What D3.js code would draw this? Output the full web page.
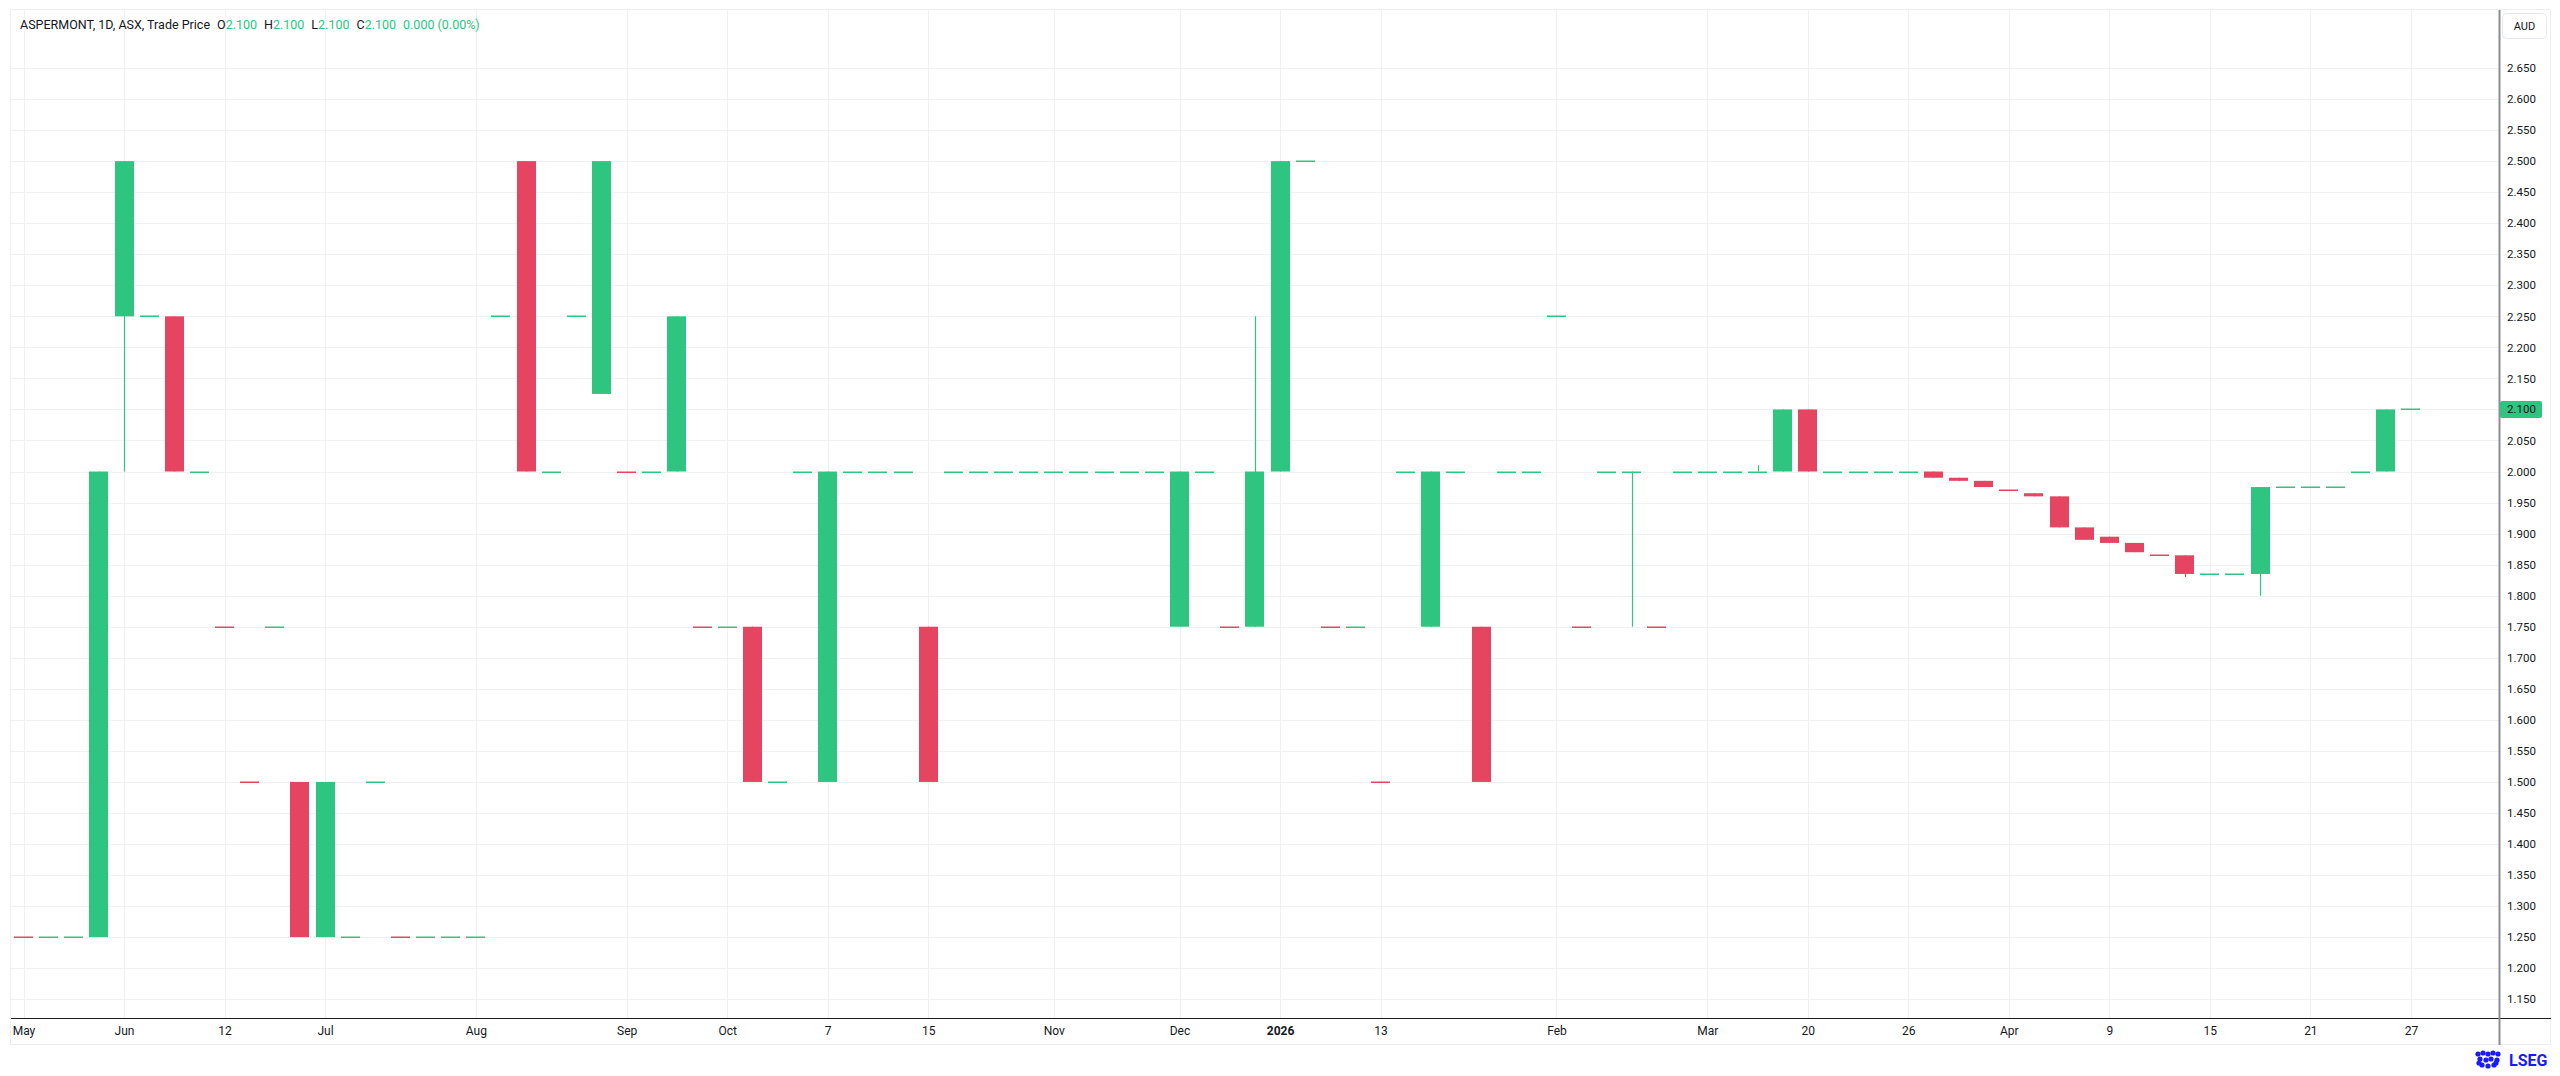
<!DOCTYPE html>
<html><head><meta charset="utf-8">
<script src="https://cdn.jsdelivr.net/npm/d3@7"></script>
<style>
html,body{margin:0;padding:0;background:#ffffff;}
svg{display:block;font-family:Roboto,"Liberation Sans",sans-serif;}
</style>
</head><body>
<svg id="chart" width="2560" height="1076"></svg>
<script>
// ---- data (one entry per trading bar) ----
const opens = [1.25,1.25,1.25,1.25,2.25,2.25,2.25,2.0,1.75,1.5,
  1.75,1.5,1.25,1.25,1.5,1.25,1.25,1.25,1.25,2.25,
  2.5,2.0,2.25,2.125,2.0,2.0,2.0,1.75,1.75,1.75,
  1.5,2.0,1.5,2.0,2.0,2.0,1.75,2.0,2.0,2.0,
  2.0,2.0,2.0,2.0,2.0,2.0,1.75,2.0,1.75,1.75,
  2.0,2.5,1.75,1.75,1.5,2.0,1.75,2.0,1.75,2.0,
  2.0,2.25,1.75,2.0,2.0,1.75,2.0,2.0,2.0,2.0,
  2.0,2.1,2.0,2.0,2.0,2.0,2.0,1.99,1.985,1.97,
  1.965,1.96,1.91,1.895,1.885,1.865,1.865,1.835,1.835,1.835,
  1.975,1.975,1.975,2.0,2.0,2.1];
const highs = [1.25,1.25,1.25,2.0,2.5,2.25,2.25,2.0,1.75,1.5,
  1.75,1.5,1.5,1.25,1.5,1.25,1.25,1.25,1.25,2.25,
  2.5,2.0,2.25,2.5,2.0,2.0,2.25,1.75,1.75,1.75,
  1.5,2.0,2.0,2.0,2.0,2.0,1.75,2.0,2.0,2.0,
  2.0,2.0,2.0,2.0,2.0,2.0,2.0,2.0,1.75,2.25,
  2.5,2.5,1.75,1.75,1.5,2.0,2.0,2.0,1.75,2.0,
  2.0,2.25,1.75,2.0,2.0,1.75,2.0,2.0,2.0,2.01,
  2.1,2.1,2.0,2.0,2.0,2.0,2.0,1.99,1.985,1.97,
  1.965,1.96,1.91,1.895,1.885,1.865,1.865,1.835,1.835,1.975,
  1.975,1.975,1.975,2.0,2.1,2.1];
const lows = [1.25,1.25,1.25,1.25,2.0,2.25,2.0,2.0,1.75,1.5,
  1.75,1.25,1.25,1.25,1.5,1.25,1.25,1.25,1.25,2.25,
  2.0,2.0,2.25,2.125,2.0,2.0,2.0,1.75,1.75,1.5,
  1.5,2.0,1.5,2.0,2.0,2.0,1.5,2.0,2.0,2.0,
  2.0,2.0,2.0,2.0,2.0,2.0,1.75,2.0,1.75,1.75,
  2.0,2.5,1.75,1.75,1.5,2.0,1.75,2.0,1.5,2.0,
  2.0,2.25,1.75,2.0,1.75,1.75,2.0,2.0,2.0,2.0,
  2.0,2.0,2.0,2.0,2.0,2.0,1.99,1.985,1.975,1.97,
  1.96,1.91,1.89,1.885,1.87,1.865,1.83,1.835,1.835,1.80,
  1.975,1.975,1.975,2.0,2.0,2.1];
const closes = [1.25,1.25,1.25,2.0,2.5,2.25,2.0,2.0,1.75,1.5,
  1.75,1.25,1.5,1.25,1.5,1.25,1.25,1.25,1.25,2.25,
  2.0,2.0,2.25,2.5,2.0,2.0,2.25,1.75,1.75,1.5,
  1.5,2.0,2.0,2.0,2.0,2.0,1.5,2.0,2.0,2.0,
  2.0,2.0,2.0,2.0,2.0,2.0,2.0,2.0,1.75,2.0,
  2.5,2.5,1.75,1.75,1.5,2.0,2.0,2.0,1.5,2.0,
  2.0,2.25,1.75,2.0,2.0,1.75,2.0,2.0,2.0,2.0,
  2.1,2.0,2.0,2.0,2.0,2.0,1.99,1.985,1.975,1.97,
  1.96,1.91,1.89,1.885,1.87,1.865,1.835,1.835,1.835,1.975,
  1.975,1.975,1.975,2.0,2.1,2.1];
// unchanged-price bars that closed below the prior trade (drawn as down bars)
const dojiDownBars = [0,8,9,15,24,27,48,52,54,62,65,79,85];

// time axis labels (bar index -> label)
const timeTickIndex = [0,4,8,12,18,24,28,32,36,41,46,50,54,61,67,71,75,79,83,87,91,95];
const timeTickLabels = ["May","Jun","12","Jul","Aug","Sep","Oct","7","15","Nov","Dec","2026","13","Feb","Mar","20","26","Apr","9","15","21","27"];
const boldTimeLabels = ["2026"];

// price axis labels
const priceTickLabels = ["2.650","2.600","2.550","2.500","2.450","2.400","2.350","2.300","2.250","2.200",
  "2.150","2.100","2.050","2.000","1.950","1.900","1.850","1.800","1.750","1.700","1.650","1.600",
  "1.550","1.500","1.450","1.400","1.350","1.300","1.250","1.200","1.150"];

const lastPrice = 2.100;
const headerTitle = "ASPERMONT, 1D, ASX, Trade Price";
const headerOHLC = [["O","2.100"],["H","2.100"],["L","2.100"],["C","2.100"]];
const headerChange = "0.000 (0.00%)";
const currency = "AUD";

// ---- layout ----
const UP = "#2ec580", DOWN = "#e54560", GRID = "#f0f1f3", TEXT = "#131722";
const paneL = 11, paneR = 2499, paneT = 10, paneB = 1018, outerR = 2551, outerB = 1045;

const bars = opens.map((o,i)=>({i,o,h:highs[i],l:lows[i],c:closes[i]}));
bars.forEach(b=>{
  b.up = b.c > b.o ? true : (b.c < b.o ? false : !dojiDownBars.includes(b.i));
});

const x = d3.scaleLinear().domain([0, 95]).range([23.5, 2410.9]);
const y = d3.scaleLinear().domain([1.15, 2.65]).range([999.2, 68.0]);
const bodyW = 19;

const svg = d3.select("#chart");

// outer frame
svg.append("rect").attr("x",paneL-0.5).attr("y",paneT-0.5)
  .attr("width",outerR-paneL).attr("height",outerB-paneT)
  .attr("fill","#fff").attr("stroke","#eceef2").attr("stroke-width",1);

const clip = svg.append("defs").append("clipPath").attr("id","pane");
clip.append("rect").attr("x",paneL).attr("y",paneT).attr("width",paneR-paneL).attr("height",paneB-paneT);

// grid
const grid = svg.append("g").attr("clip-path","url(#pane)");
grid.selectAll("line.h").data(priceTickLabels).join("line")
  .attr("x1",paneL).attr("x2",paneR)
  .attr("y1",d=>Math.round(y(+d))+0.5).attr("y2",d=>Math.round(y(+d))+0.5)
  .attr("stroke",GRID).attr("stroke-width",1);
grid.selectAll("line.v").data(timeTickIndex).join("line")
  .attr("y1",paneT).attr("y2",paneB)
  .attr("x1",d=>Math.round(x(d))+0.5).attr("x2",d=>Math.round(x(d))+0.5)
  .attr("stroke",GRID).attr("stroke-width",1);

// candles
const cg = svg.append("g").attr("clip-path","url(#pane)");
const candle = cg.selectAll("g.c").data(bars).join("g");
candle.append("line")
  .attr("x1",d=>Math.round(x(d.i))+0.5).attr("x2",d=>Math.round(x(d.i))+0.5)
  .attr("y1",d=>y(d.h)).attr("y2",d=>y(d.l))
  .attr("stroke",d=>d.up?UP:DOWN).attr("stroke-width",1.2);
candle.append("rect")
  .attr("x",d=>Math.round(x(d.i)-bodyW/2))
  .attr("width",bodyW)
  .attr("y",d=>{const t=y(Math.max(d.o,d.c)), b=y(Math.min(d.o,d.c)); return (b-t<1.5)? Math.round(t)-0.5 : t;})
  .attr("height",d=>{const t=y(Math.max(d.o,d.c)), b=y(Math.min(d.o,d.c)); return Math.max(1.5,b-t);})
  .attr("fill",d=>d.up?UP:DOWN);

// bottom time-axis line and price-axis line
svg.append("line").attr("x1",paneL).attr("x2",outerR).attr("y1",paneB+0.5).attr("y2",paneB+0.5)
  .attr("stroke","#1e1e1e").attr("stroke-width",1);
svg.append("line").attr("x1",paneR+0.5).attr("x2",paneR+0.5).attr("y1",paneT).attr("y2",outerB)
  .attr("stroke","#8a8d93").attr("stroke-width",2);

// time axis labels
const xAxis = d3.axisBottom(x).tickValues(timeTickIndex)
  .tickFormat((d,k)=>timeTickLabels[k]).tickSize(0).tickPadding(0);
const gx = svg.append("g").attr("transform",`translate(0,${paneB+8})`).call(xAxis);
gx.select(".domain").remove();
gx.selectAll("text").attr("font-size",12).attr("fill",TEXT)
  .attr("font-family","Roboto,'Liberation Sans',sans-serif")
  .attr("font-weight",d=>boldTimeLabels.includes(timeTickLabels[timeTickIndex.indexOf(d)])?"bold":"normal");

// price axis labels
const yAxis = d3.axisRight(y).tickValues(priceTickLabels.map(Number).filter(v=>Math.abs(v-lastPrice)>1e-6))
  .tickFormat(d3.format(".3f")).tickSize(0).tickPadding(0);
const gy = svg.append("g").attr("transform",`translate(2507,0)`).call(yAxis);
gy.select(".domain").remove();
gy.selectAll("text").attr("font-size",11.5).attr("fill",TEXT)
  .attr("font-family","Roboto,'Liberation Sans',sans-serif");

// last price label
const ly = y(lastPrice);
svg.append("rect").attr("x",paneR+1).attr("y",ly-8.5).attr("width",42).attr("height",17)
  .attr("rx",2).attr("fill",UP);
svg.append("text").attr("x",2507).attr("y",ly).attr("dy","0.35em")
  .attr("font-size",11.5).attr("fill",TEXT).text(d3.format(".3f")(lastPrice));

// currency box
svg.append("rect").attr("x",2502.5).attr("y",13.5).attr("width",44).attr("height",25).attr("rx",4)
  .attr("fill","#fff").attr("stroke","#e6e8ec");
svg.append("text").attr("x",2524.5).attr("y",26).attr("dy","0.35em").attr("text-anchor","middle")
  .attr("font-size",11).attr("fill",TEXT).text(currency);

// header legend
const hdr = svg.append("text").attr("x",20).attr("y",25).attr("dy","0.35em")
  .attr("font-size",12.5).attr("fill",TEXT);
hdr.append("tspan").text(headerTitle);
headerOHLC.forEach(([k,v],j)=>{
  hdr.append("tspan").attr("dx", j===0?7:7).text(k);
  hdr.append("tspan").attr("fill",UP).text(v);
});
hdr.append("tspan").attr("dx",7).attr("fill",UP).text(headerChange);

// LSEG mark
const logo = svg.append("g").attr("transform","translate(2478,1060)");
const blobs = [[0,-6],[5,-7],[10,-6],[15,-7],[20,-6],[2,-1],[8,0],[13,-1],[19,0],[4,5],[10,6],[16,5],[1,3],[18,3]];
logo.selectAll("circle").data(blobs).join("circle")
  .attr("cx",d=>d[0]).attr("cy",d=>d[1]).attr("r",2.6).attr("fill","#1a1aff");
svg.append("text").attr("x",2509).attr("y",1060).attr("dy","0.36em")
  .attr("font-size",16).attr("font-weight","bold").attr("fill","#1a1aff")
  .attr("font-family","Roboto,'Liberation Sans',sans-serif").text("LSEG");
</script>
</body></html>
